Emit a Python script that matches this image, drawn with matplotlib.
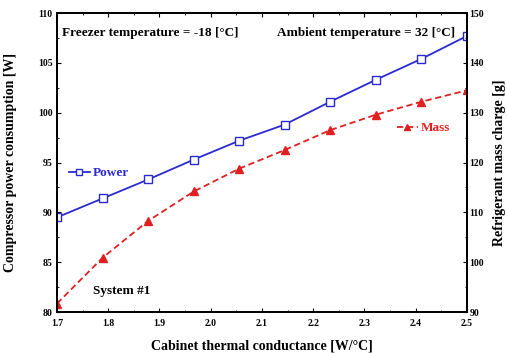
import matplotlib.pyplot as plt
from matplotlib.ticker import MultipleLocator

plt.rcParams['font.family'] = ['Liberation Serif', 'DejaVu Serif']
plt.rcParams['font.weight'] = 'bold'

# Data
conductance = [1.7, 1.789, 1.878, 1.967, 2.056, 2.144, 2.233, 2.322, 2.411, 2.5]
power = [89.5, 91.4, 93.3, 95.3, 97.2, 98.8, 101.1, 103.3, 105.4, 107.7]
mass = [91.7, 100.9, 108.3, 114.2, 118.8, 122.5, 126.5, 129.6, 132.2, 134.5]

fig = plt.figure(figsize=(5.07, 3.53), dpi=100)
ax = fig.add_axes([0.1124, 0.116, 0.8086, 0.847])
ax2 = ax.twinx()

p_line, = ax.plot(conductance, power, color='#2a2ad0', lw=1.3, marker='s', ms=5.5,
                  mfc='white', mec='#2a2ad0', mew=1.0, label='Power')
m_line, = ax2.plot(conductance, mass, color='#e02020', lw=1.3, ls='--', marker='^',
                   ms=5.5, mfc='#e02020', mec='#e02020', label='Mass', dashes=(3.5, 2))

ax.set_xlim(1.7, 2.5)
ax.set_ylim(80, 110)
ax2.set_ylim(90, 150)

ax.xaxis.set_major_locator(MultipleLocator(0.1))
ax.xaxis.set_minor_locator(MultipleLocator(0.05))
ax.yaxis.set_major_locator(MultipleLocator(5))
ax.yaxis.set_minor_locator(MultipleLocator(2.5))
ax2.yaxis.set_major_locator(MultipleLocator(10))
ax2.yaxis.set_minor_locator(MultipleLocator(5))

ax.tick_params(axis='both', which='both', direction='in', labelsize=7, pad=3)
ax.tick_params(axis='x', which='both', top=True, pad=5)
ax.tick_params(which='major', length=3, width=0.8)
ax.tick_params(which='minor', length=1.5, width=0.6)
ax2.tick_params(which='both', direction='in', labelsize=7, pad=2)
ax2.tick_params(which='major', length=3, width=0.8)
ax2.tick_params(which='minor', length=1.5, width=0.6)
for a in (ax, ax2):
    for s in a.spines.values():
        s.set_linewidth(1.4)
    for lab in a.get_xticklabels() + a.get_yticklabels():
        lab.set_fontweight('bold')

ax.set_xticks([1.7, 1.8, 1.9, 2.0, 2.1, 2.2, 2.3, 2.4, 2.5])
ax.set_xticklabels(['1.7', '1.8', '1.9', '2.0', '2.1', '2.2', '2.3', '2.4', '2.5'],
                   fontweight='bold')

ax.set_xlabel('Cabinet thermal conductance [W/°C]', fontsize=10, fontweight='bold', labelpad=8)
ax.set_ylabel('Compressor power consumption [W]', fontsize=10, fontweight='bold', labelpad=15)
ax2.set_ylabel('Refrigerant mass charge [g]', fontsize=10, fontweight='bold', labelpad=6)

ax.text(0.013, 0.955, 'Freezer temperature = -18 [°C]', transform=ax.transAxes,
        fontsize=9.5, fontweight='bold', va='top', ha='left')
ax.text(0.97, 0.955, 'Ambient temperature = 32 [°C]', transform=ax.transAxes,
        fontsize=9.5, fontweight='bold', va='top', ha='right')
ax.text(0.088, 0.05, 'System #1', transform=ax.transAxes,
        fontsize=9.5, fontweight='bold', va='bottom', ha='left')

leg1 = ax.legend(handles=[p_line], loc='center left', bbox_to_anchor=(0.0, 0.465),
                 frameon=False, fontsize=9.5, handlelength=1.6, handletextpad=0.2,
                 labelcolor='#2a2ad0', markerscale=0.9)
leg2 = ax2.legend(handles=[m_line], loc='center left', bbox_to_anchor=(0.8, 0.615),
                  frameon=False, fontsize=9.5, handlelength=1.6, handletextpad=0.2,
                  labelcolor='#e02020', markerscale=0.9)

fig.savefig('out.png', dpi=100)
